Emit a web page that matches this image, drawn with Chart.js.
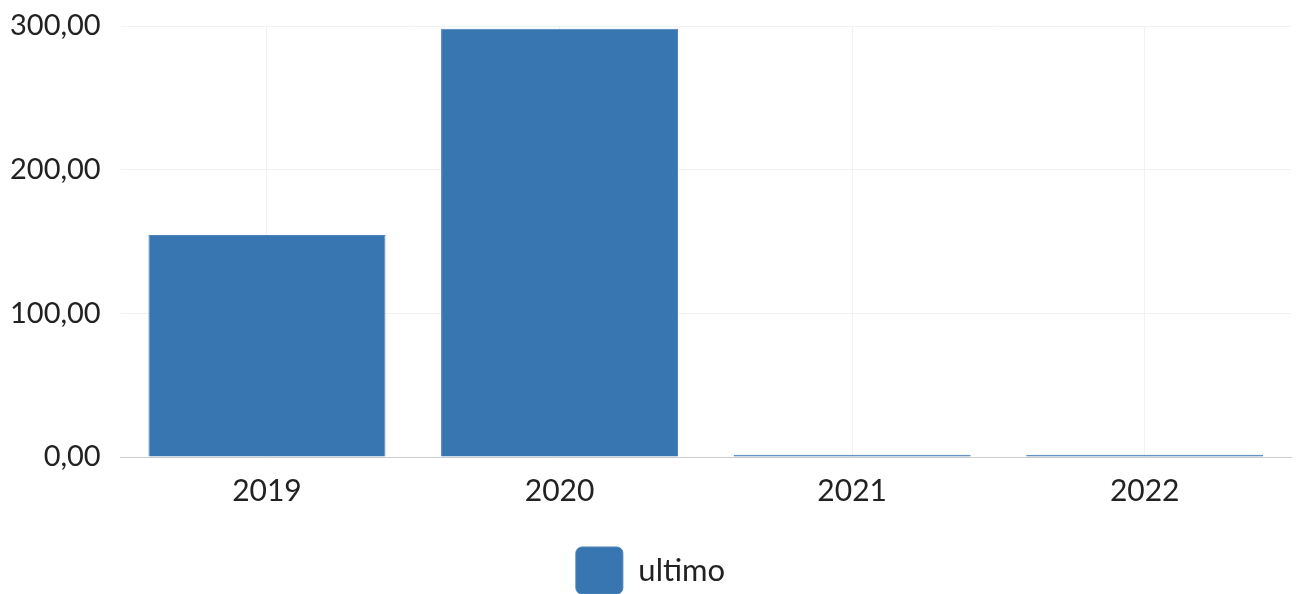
<!DOCTYPE html>
<html>
<head>
<meta charset="utf-8">
<script src="https://cdn.jsdelivr.net/npm/chart.js@4/dist/chart.umd.min.js"></script>
<style>
html,body{margin:0;padding:0;background:#fff;}
#wrap{width:1296px;height:594px;}
</style>
</head>
<body>
<div id="wrap"><canvas id="c"></canvas></div>
<script>
const categories = ["2019", "2020", "2021", "2022"];
const ultimo = [154.5, 298, 1.5, 1.5];
const yTicks = [0, 100, 200, 300];

Chart.defaults.font.family = "Lato";
Chart.defaults.color = "#222";

new Chart(document.getElementById('c'), {
  type: 'bar',
  data: {
    labels: categories,
    datasets: [{
      label: 'ultimo',
      data: ultimo,
      backgroundColor: '#3776b1',
      borderColor: '#4a82ba',
      borderWidth: 1,
      barPercentage: 0.9,
      categoryPercentage: 0.9
    }]
  },
  options: {
    responsive: true,
    maintainAspectRatio: false,
    animation: false,
    layout: { padding: { left: 10, right: 5, top: 26, bottom: -10 } },
    plugins: {
      legend: {
        position: 'bottom',
        labels: {
          font: { size: 31 },
          color: '#222',
          boxWidth: 47,
          boxHeight: 47,
          useBorderRadius: true,
          borderRadius: 6,
          padding: 22
        }
      },
      tooltip: { enabled: false }
    },
    scales: {
      x: {
        grid: { color: '#f2f2f2', offset: false, drawTicks: false },
        border: { color: '#cccccc' },
        ticks: { font: { size: 30 }, color: '#222', padding: 16 }
      },
      y: {
        min: 0,
        max: 300,
        afterBuildTicks: (axis) => { axis.ticks = yTicks.map(v => ({ value: v })); },
        grid: { color: '#f2f2f2', drawTicks: true, tickLength: 20, tickColor: 'rgba(0,0,0,0)' },
        border: { display: false },
        ticks: {
          font: { size: 29 },
          color: '#222',
          padding: 0,
          callback: (v) => Number(v).toFixed(2).replace('.', ',')
        }
      }
    }
  }
});
</script>
</body>
</html>
